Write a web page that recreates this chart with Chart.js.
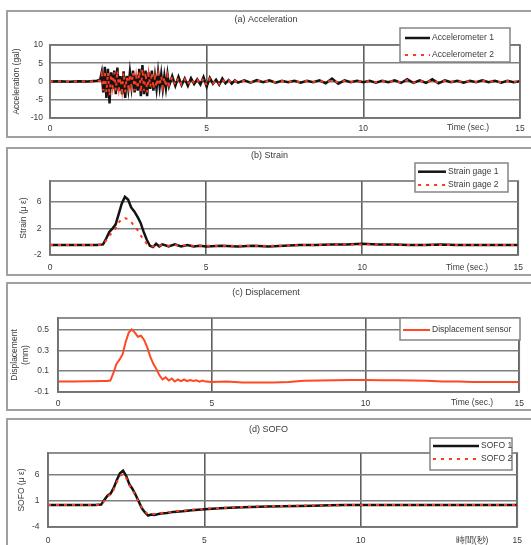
<!DOCTYPE html>
<html>
<head>
<meta charset="utf-8">
<script src="https://cdn.jsdelivr.net/npm/chart.js@4.4.0/dist/chart.umd.min.js"></script>
<style>
  html, body { margin: 0; padding: 0; background: #fff; width: 531px; height: 545px; overflow: hidden; }
  body { position: relative; }
  .frame { position: absolute; left: 6px; width: 540px; border: 2px solid #a0a0a0; box-sizing: border-box; background: #fff; }
  canvas { position: absolute; left: 0; }
</style>
</head>
<body>
<div class="frame" style="top:10px;height:128px"></div>
<div class="frame" style="top:147px;height:129px"></div>
<div class="frame" style="top:282px;height:129px"></div>
<div class="frame" style="top:418px;height:140px"></div>
<canvas id="accChart" width="531" height="127" style="top:10px"></canvas>
<canvas id="strainChart" width="531" height="128" style="top:147px"></canvas>
<canvas id="dispChart" width="531" height="128" style="top:282px"></canvas>
<canvas id="sofoChart" width="531" height="127" style="top:418px"></canvas>
<script>
// shared time axis ticks (sec.)
const timeTicks = [0, 5, 10, 15];

// (a) acceleration, gal
const accTime = [0, 0.3, 0.6, 0.9, 1.2, 1.5,
  1.6, 1.65, 1.7, 1.75, 1.8, 1.85, 1.9, 1.95, 2, 2.05, 2.1, 2.15, 2.2, 2.25, 2.3, 2.35, 2.4, 2.45, 2.5,
  2.55, 2.6, 2.65, 2.7, 2.75, 2.8, 2.85, 2.9, 2.95, 3, 3.05, 3.1, 3.15, 3.2, 3.25, 3.3, 3.35, 3.4, 3.45,
  3.5, 3.55, 3.6, 3.65, 3.7, 3.75, 3.8,
  3.9, 4, 4.1, 4.2, 4.3, 4.4, 4.5, 4.6, 4.7, 4.8, 4.9, 5, 5.1, 5.2, 5.3, 5.4, 5.5, 5.6, 5.7, 5.8, 5.9, 6,
  6.2, 6.4, 6.6, 6.8, 7, 7.2, 7.4, 7.6, 7.8, 8, 8.2, 8.4, 8.6, 8.8, 9, 9.2, 9.4, 9.6, 9.8, 10, 10.2, 10.4,
  10.6, 10.8, 11, 11.2, 11.4, 11.6, 11.8, 12, 12.2, 12.4, 12.6, 12.8, 13, 13.2, 13.4, 13.6, 13.8, 14,
  14.2, 14.4, 14.6, 14.8, 15];
const accel1 = [0, 0.1, -0.1, 0.1, 0, 0.2,
  0.5, 2.5, -3, 4, -4.5, 3.5, -6, 2.5, -2, 3, -3.5, 3.8, -2.5, 1.5, -3.5, 2.8, -4.5, 1.5, -2, 2.5,
  -1.5, 3, -3, 1.8, -2.5, 3.5, -4, 4.5, -3.5, 3, -4, 2.5, -2, 3, -2.5, 1.5, -2, 2.5, -1.5, 2, -2, 1.5,
  -1.8, 2, -1.2,
  1.5, -1.2, 1.3, -1, 0.8, -1.2, 0.9, -0.7, 0.6, -0.8, 1.2, -1.4, 1, -0.6, 0.5, -0.9, 0.8, -0.5, 0.4,
  -0.6, 0.3, -0.3,
  0.3, -0.3, 0.4, -0.2, 0.3, -0.3, 0.2, -0.2, 0.2, -0.3, 0.2, -0.2, 0.3, -0.5, 0.8, -0.6, 0.3, -0.2,
  0.2, -0.2, 0.2, -0.3, 0.2, -0.2, 0.3, -0.4, 0.6, -0.4, 0.3, -0.4, 0.6, -0.5, 0.3, -0.2, 0.2, -0.3,
  0.2, -0.2, 0.3, -0.2, 0.2, -0.3, 0.2, -0.2, 0.1];
const accel2 = [0, 0.1, -0.1, 0.1, 0, 0.1,
  0.3, 2, -2.5, 3, -3, 2.5, -4, 2, -1.5, 2.5, -2.5, 3, -2, 1, -2.5, 2.5, -3, 1.2, -1.5, 2,
  -1.2, 2.5, -2.5, 1.5, -2, 2.8, -3, 3.5, -2.5, 2.5, -3, 2, -1.5, 2.5, -2, 1.2, -1.5, 2, -1.2, 1.5,
  -1.5, 1.2, -1.5, 1.5, -1,
  1.2, -1, 1, -0.8, 0.6, -0.9, 0.7, -0.5, 0.5, -0.6, 0.9, -1, 0.8, -0.5, 0.4, -0.7, 0.6, -0.4, 0.3,
  -0.5, 0.2, -0.2,
  0.2, -0.2, 0.3, -0.1, 0.2, -0.2, 0.1, -0.1, 0.1, -0.2, 0.1, -0.1, 0.2, -0.3, 0.5, -0.4, 0.2, -0.1,
  0.1, -0.1, 0.1, -0.2, 0.1, -0.1, 0.2, -0.3, 0.4, -0.3, 0.2, -0.3, 0.4, -0.3, 0.2, -0.1, 0.1, -0.2,
  0.1, -0.1, 0.2, -0.1, 0.1, -0.2, 0.1, -0.1, 0.1];
const accTicks = [-10, -5, 0, 5, 10];

// (b) strain, micro strain
const strainTime = [0, 0.5, 1, 1.5, 1.7, 1.8, 1.9, 2, 2.1, 2.2, 2.3, 2.4, 2.5, 2.6, 2.7, 2.8, 2.9, 3,
  3.1, 3.2, 3.3, 3.4, 3.5, 3.6, 3.8, 4, 4.2, 4.4, 4.6, 4.8, 5, 5.5, 6, 6.5, 7, 7.5, 8, 8.5, 9, 9.5,
  10, 10.5, 11, 11.5, 12, 12.5, 13, 13.5, 14, 14.5, 15];
const strain1 = [-0.5, -0.5, -0.5, -0.5, -0.4, 0.5, 1.5, 2, 2.6, 4.2, 5.8, 6.8, 6.4, 5.2, 4.6, 3.8,
  2.9, 1.5, 0.3, -0.6, -0.8, -0.3, -0.7, -0.4, -0.7, -0.4, -0.7, -0.5, -0.7, -0.6, -0.7, -0.6, -0.7,
  -0.6, -0.7, -0.6, -0.5, -0.5, -0.4, -0.4, -0.3, -0.4, -0.4, -0.5, -0.5, -0.4, -0.5, -0.5, -0.5,
  -0.5, -0.5];
const strain2 = [-0.5, -0.5, -0.5, -0.5, -0.4, 0.2, 0.9, 1.5, 2, 2.9, 3.5, 3.6, 3.4, 3, 2.4, 1.8,
  1, 0.3, -0.3, -0.6, -0.7, -0.5, -0.6, -0.5, -0.6, -0.5, -0.6, -0.5, -0.6, -0.6, -0.6, -0.6, -0.6,
  -0.6, -0.6, -0.6, -0.5, -0.5, -0.4, -0.4, -0.4, -0.4, -0.4, -0.5, -0.5, -0.5, -0.5, -0.5, -0.5,
  -0.5, -0.5];
const strainTicks = [-2, 2, 6];

// (c) displacement, mm
const dispTime = [0, 0.5, 1, 1.5, 1.6, 1.7, 1.8, 1.9, 2, 2.1, 2.2, 2.3, 2.4, 2.5, 2.6, 2.7, 2.8, 2.9,
  3, 3.1, 3.2, 3.3, 3.4, 3.5, 3.6, 3.7, 3.8, 3.9, 4, 4.1, 4.2, 4.3, 4.4, 4.5, 4.6, 4.7, 4.8, 5, 5.5,
  6, 6.5, 7, 7.5, 8, 8.5, 9, 9.5, 10, 10.5, 11, 11.5, 12, 12.5, 13, 13.5, 14, 14.5, 15];
const dispValues = [0, 0, 0.003, 0.005, 0.005, 0.01, 0.08, 0.17, 0.21, 0.26, 0.38, 0.47, 0.5, 0.47,
  0.43, 0.44, 0.4, 0.33, 0.24, 0.17, 0.12, 0.06, 0.02, 0.04, 0.01, 0.03, 0, 0.02, 0.005, 0.02, 0.005,
  0.015, 0.005, 0.012, 0, 0.01, 0, -0.005, 0, -0.01, -0.008, -0.01, -0.005, 0.008, 0.01, 0.012,
  0.015, 0.015, 0.012, 0.012, 0.01, 0.008, 0, 0, -0.005, -0.005, -0.005, -0.005];
const dispTicks = [-0.1, 0.1, 0.3, 0.5];

// (d) SOFO, micro strain
const sofoTime = [0, 0.5, 1, 1.5, 1.7, 1.8, 1.9, 2, 2.1, 2.2, 2.3, 2.4, 2.5, 2.6, 2.7, 2.8, 2.9, 3,
  3.1, 3.2, 3.3, 3.4, 3.6, 3.8, 4, 4.3, 4.6, 5, 5.5, 6, 6.5, 7, 7.5, 8, 8.5, 9, 9.5, 10, 11, 12, 13,
  14, 15];
const sofo1 = [0.2, 0.2, 0.2, 0.2, 0.3, 1.2, 2, 2.4, 3.5, 5, 6.3, 6.8, 5.8, 4.2, 3.3, 2.2, 0.9, -0.4,
  -1.2, -1.8, -1.6, -1.7, -1.4, -1.3, -1.1, -1, -0.8, -0.6, -0.4, -0.25, -0.15, -0.05, 0, 0.05, 0.1,
  0.15, 0.2, 0.2, 0.2, 0.2, 0.2, 0.2, 0.2];
const sofo2 = [0.2, 0.2, 0.2, 0.2, 0.3, 1, 1.8, 2.3, 3.2, 4.6, 5.8, 6.2, 5.4, 4, 3.1, 2, 0.8, -0.3,
  -1, -1.6, -1.5, -1.5, -1.3, -1.2, -1, -0.9, -0.7, -0.5, -0.35, -0.2, -0.1, 0, 0.05, 0.1, 0.12,
  0.15, 0.2, 0.2, 0.2, 0.2, 0.2, 0.2, 0.2];
const sofoTicks = [-4, 1, 6];

const TEXT = "#3a3a3a";
const FONT = "Liberation Sans, Arial, sans-serif";
const BLACK = "#141414";
const RED = "#ff3a1e";

Chart.defaults.font.family = FONT;
Chart.defaults.font.size = 8.5;
Chart.defaults.color = TEXT;

// frame round the plot, caption on the tick row, boxed legend
const panelDecor = {
  id: "panelDecor",
  afterDatasetsDraw(chart, args, opts) {
    const ctx = chart.ctx, a = chart.chartArea;
    ctx.save();
    ctx.strokeStyle = "#737373";
    ctx.lineWidth = 1.6;
    ctx.strokeRect(a.left, a.top, a.right - a.left, a.bottom - a.top);

    ctx.fillStyle = TEXT;
    ctx.font = "8.5px " + FONT;
    ctx.textAlign = "center";
    ctx.textBaseline = "middle";
    ctx.fillText(opts.caption, opts.captionX, opts.captionY);

    const b = opts.box;
    ctx.fillStyle = "#fff";
    ctx.fillRect(b[0], b[1], b[2] - b[0], b[3] - b[1]);
    ctx.strokeStyle = "#858585";
    ctx.lineWidth = 1.5;
    ctx.strokeRect(b[0], b[1], b[2] - b[0], b[3] - b[1]);
    chart.data.datasets.forEach((ds, i) => {
      const y = opts.rows[i];
      ctx.strokeStyle = ds.borderColor;
      ctx.lineWidth = ds.borderWidth;
      ctx.setLineDash(ds.borderDash || []);
      ctx.beginPath();
      ctx.moveTo(opts.sample[0], y);
      ctx.lineTo(opts.sample[1], y);
      ctx.stroke();
      ctx.setLineDash([]);
      ctx.fillStyle = TEXT;
      ctx.textAlign = "left";
      ctx.fillText(ds.label, opts.sample[1] + 2, y);
    });
    ctx.restore();
  }
};

function makePanel(id, p) {
  return new Chart(document.getElementById(id), {
    type: "line",
    data: {
      datasets: p.series.map(s => ({
        label: s.label,
        data: s.t.map((x, i) => ({ x: x, y: s.v[i] })),
        borderColor: s.color,
        borderWidth: s.width,
        borderDash: s.dash || [],
        order: s.dash ? 0 : 1,
        pointRadius: 0,
        tension: 0,
        fill: false
      }))
    },
    options: {
      responsive: false,
      animation: false,
      layout: { padding: { left: p.padLeft, right: p.padRight, top: 0, bottom: 0 } },
      plugins: {
        legend: { display: false },
        tooltip: { enabled: false },
        title: {
          display: true, text: p.title, color: TEXT,
          font: { size: 9, weight: "normal" },
          padding: { top: p.titleTop, bottom: p.titleBottom }
        },
        panelDecor: p.decor
      },
      scales: {
        x: {
          type: "linear", min: 0, max: 15,
          afterBuildTicks: s => { s.ticks = timeTicks.map(v => ({ value: v })); },
          afterFit: s => { s.height = p.xHeight; },
          ticks: { padding: p.xPad, maxRotation: 0, autoSkip: false },
          grid: { color: "#5e5e5e", lineWidth: 1.6, drawTicks: false },
          border: { color: "#737373", width: 1.6 }
        },
        y: {
          min: p.yMin, max: p.yMax,
          afterBuildTicks: s => { s.ticks = p.yTicks.map(v => ({ value: v })); },
          afterFit: s => { s.width = p.yWidth; },
          ticks: { padding: p.yPad, callback: v => String(v) },
          grid: { color: "#7e7e7e", lineWidth: 1.6, drawTicks: false },
          border: { color: "#737373", width: 1.6 },
          title: { display: true, text: p.yTitle, color: TEXT, font: { size: 8.5 }, padding: 0 }
        }
      }
    },
    plugins: [panelDecor]
  });
}

makePanel("accChart", {
  title: "(a) Acceleration", titleTop: 4.6, titleBottom: 19.6,
  padLeft: 12, padRight: 11, yWidth: 38, yPad: 7, xHeight: 19, xPad: 6,
  yMin: -10, yMax: 10, yTicks: accTicks, yTitle: "Acceleration (gal)",
  series: [
    { label: "Accelerometer 1", t: accTime, v: accel1, color: BLACK, width: 2.5 },
    { label: "Accelerometer 2", t: accTime, v: accel2, color: RED, width: 2, dash: [3, 5] }
  ],
  decor: { caption: "Time (sec.)", captionX: 468, captionY: 118, box: [400, 18, 510, 52], rows: [28, 45], sample: [405, 430] }
});

makePanel("strainChart", {
  title: "(b) Strain", titleTop: 3.6, titleBottom: 19.6,
  padLeft: 19, padRight: 11, yWidth: 31, yPad: 8.5, xHeight: 20, xPad: 8,
  yMin: -2, yMax: 9.2, yTicks: strainTicks, yTitle: "Strain (\u03bc \u03b5)",
  series: [
    { label: "Strain gage 1", t: strainTime, v: strain1, color: BLACK, width: 2.5 },
    { label: "Strain gage 2", t: strainTime, v: strain2, color: RED, width: 2, dash: [3, 5] }
  ],
  decor: { caption: "Time (sec.)", captionX: 467, captionY: 120.5, box: [415, 16, 508, 45], rows: [24.7, 38], sample: [418, 446] }
});

makePanel("dispChart", {
  title: "(c) Displacement", titleTop: 5.6, titleBottom: 19.6,
  padLeft: 10, padRight: 9, yWidth: 48, yPad: 9, xHeight: 18, xPad: 7,
  yMin: -0.1, yMax: 0.61, yTicks: dispTicks, yTitle: ["Displacement", "(mm)"],
  series: [
    { label: "Displacement sensor", t: dispTime, v: dispValues, color: "#ff4824", width: 2 }
  ],
  decor: { caption: "Time (sec.)", captionX: 472, captionY: 121, box: [400, 36, 520, 58], rows: [48], sample: [403, 430] }
});

makePanel("sofoChart", {
  title: "(d) SOFO", titleTop: 6.6, titleBottom: 17.6,
  padLeft: 17, padRight: 11, yWidth: 31, yPad: 8.5, xHeight: 18, xPad: 9,
  yMin: -4, yMax: 10.2, yTicks: sofoTicks, yTitle: "SOFO (\u03bc \u03b5)",
  series: [
    { label: "SOFO 1", t: sofoTime, v: sofo1, color: BLACK, width: 2.5 },
    { label: "SOFO 2", t: sofoTime, v: sofo2, color: RED, width: 2, dash: [3, 5] }
  ],
  decor: { caption: "\u6642\u9593(\u79d2)", captionX: 472, captionY: 122.5, box: [430, 20, 512, 52], rows: [28, 41], sample: [433, 479] }
});
</script>
</body>
</html>
